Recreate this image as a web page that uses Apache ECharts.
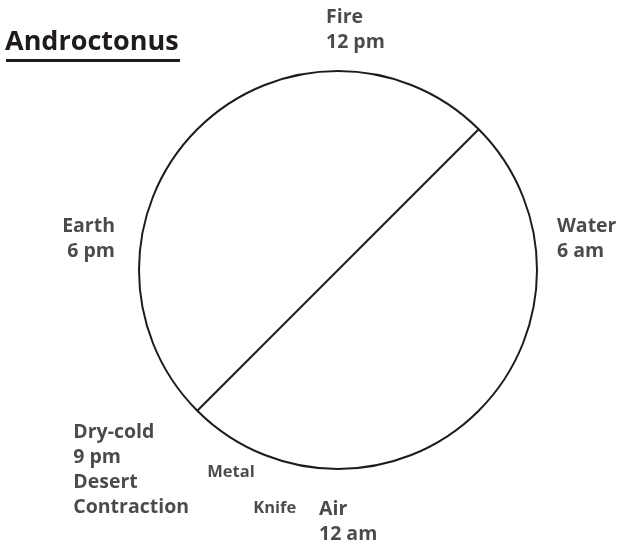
<!DOCTYPE html>
<html lang="en">

<head>
  <meta charset="utf-8">
  <title>Androctonus</title>
  <script src="https://cdn.jsdelivr.net/npm/echarts@6/dist/echarts.min.js"></script>
  <style>
    body {
      margin: 0;
      background: white;
      overflow: hidden;
    }

    main {
      width: 618px;
      height: 545px;
    }
  </style>
</head>

<body>
  <main id="chart"></main>

  <script>
    // --- Data.

    // The clock labels and the hour each one sits at (0 = 12 am, 12 = 12 pm).
    const HOUR_LABELS = ['Fire\n12 pm', 'Water\n6 am', 'Air\n12 am', 'Earth\n6 pm', 'Dry-cold\n9 pm\nDesert\nContraction'];
    const HOURS = [12, 6, 0, 18, 21];

    // Smaller words that belong to the 9 pm side.
    const ITEM_LABELS = ['Metal', 'Knife'];
    const ITEM_HOURS = [21, 21];

    // The dividing line runs from 9 pm across to 9 am.
    const DIVIDE_HOURS = [21, 9];

    const TITLE = 'Androctonus';

    // --- Style.

    const INK = '#1f1b1c';
    const FONT = 'Open Sans';

    // Where each label box sits relative to its point on the circle (pixels).
    const HOUR_LAYOUT = [
      { dx: -12, dy: -66, align: 'left' },
      { dx: 20, dy: -56, align: 'left' },
      { dx: -19, dy: 28, align: 'left' },
      { dx: -24, dy: -56, align: 'right' },
      { dx: -124, dy: 9, align: 'left' }
    ];
    const ITEM_LAYOUT = [
      { dx: 10, dy: 52 },
      { dx: 56, dy: 88 }
    ];

    function labelItem(text, hour, layout, size, lineHeight) {
      return {
        value: [1, hour],
        label: {
          show: true,
          formatter: text,
          position: [0, 0],
          offset: [layout.dx, layout.dy],
          align: layout.align || 'left',
          verticalAlign: 'top',
          color: INK,
          fontFamily: FONT,
          fontWeight: 'bold',
          fontSize: size,
          lineHeight: lineHeight
        }
      };
    }

    const chart = echarts.init(document.getElementById('chart'));

    chart.setOption({
      animation: false,
      title: {
        text: TITLE,
        left: 5,
        top: 29,
        padding: 0,
        textStyle: { color: INK, fontFamily: FONT, fontWeight: 'bold', fontSize: 27 }
      },
      // Underline under the title.
      graphic: [{
        type: 'rect',
        left: 6,
        top: 59,
        shape: { width: 174, height: 3 },
        style: { fill: INK }
      }],
      polar: { center: [338, 270], radius: 199 },
      angleAxis: {
        type: 'value',
        min: 0,
        max: 24,
        startAngle: 270,
        clockwise: false,
        axisLine: { show: true, lineStyle: { color: INK, width: 2 } },
        axisTick: { show: false },
        axisLabel: { show: false },
        splitLine: { show: false },
        splitArea: { show: false }
      },
      radiusAxis: {
        type: 'value',
        min: 0,
        max: 1,
        show: false
      },
      series: [
        {
          type: 'line',
          coordinateSystem: 'polar',
          data: DIVIDE_HOURS.map(h => [1, h]),
          symbol: 'none',
          silent: true,
          lineStyle: { color: INK, width: 2 }
        },
        {
          type: 'scatter',
          coordinateSystem: 'polar',
          symbolSize: 0,
          silent: true,
          data: HOUR_LABELS.map((t, i) => labelItem(t, HOURS[i], HOUR_LAYOUT[i], 19.5, 25))
            .concat(ITEM_LABELS.map((t, i) => labelItem(t, ITEM_HOURS[i], ITEM_LAYOUT[i], 16.5, 20)))
        }
      ]
    });
  </script>
</body>

</html>
